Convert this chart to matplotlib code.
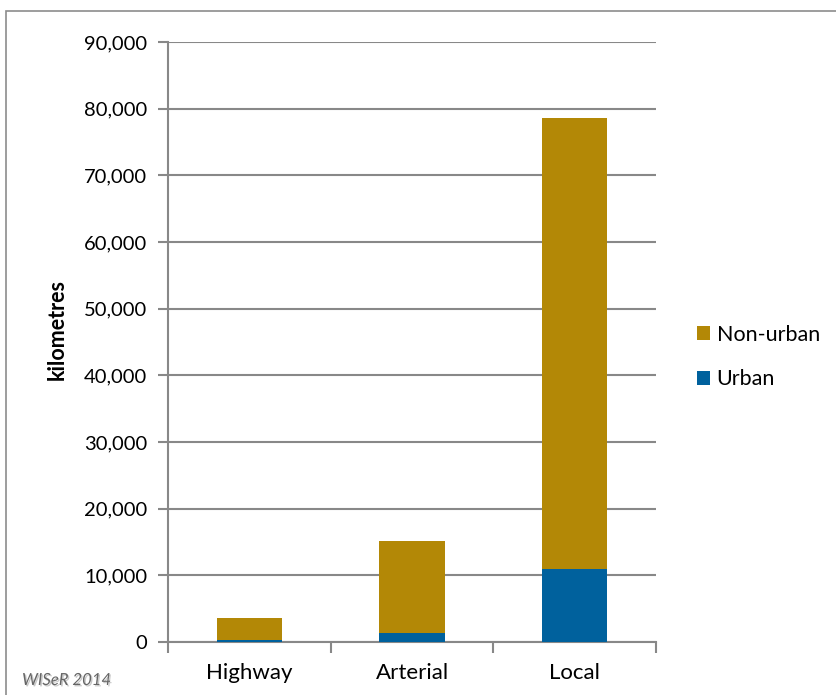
import matplotlib.pyplot as plt
import matplotlib.patheffects as pe
from matplotlib.patches import Rectangle
from matplotlib.ticker import FuncFormatter, MultipleLocator

road_types = ["Highway", "Arterial", "Local"]
urban_km = [300, 1300, 10950]
non_urban_km = [3250, 13850, 67600]

URBAN = "#00619d"
NON_URBAN = "#b38806"
GRID = "#888888"
FONT = ["Lato", "DejaVu Sans"]

W, H = 836, 695
fig = plt.figure(figsize=(W / 100, H / 100), dpi=100)
plt.rcParams["font.family"] = FONT

# chart frame around everything
fig.patches.append(Rectangle((6 / W, -0.05), 1.1, 1 - 11 / H + 0.05,
                             transform=fig.transFigure, fill=False,
                             edgecolor="#8c8c8c", linewidth=1.2))

ax = fig.add_axes([168 / W, 1 - 642 / H, (656 - 168) / W, 600 / H])

x = list(range(len(road_types)))
ax.bar(x, urban_km, width=0.4, color=URBAN, label="Urban", zorder=3)
ax.bar(x, non_urban_km, width=0.4, bottom=urban_km, color=NON_URBAN,
       label="Non-urban", zorder=3)

ax.set_xlim(-0.5, len(road_types) - 0.5)
ax.set_ylim(0, 90000)
ax.yaxis.set_major_locator(MultipleLocator(10000))
ax.yaxis.set_major_formatter(FuncFormatter(lambda v, _: f"{int(v):,}"))
ax.set_xticks(x)
ax.set_xticklabels(road_types)
ax.set_xticks([-0.5, 0.5, 1.5, 2.5], minor=True)
ax.tick_params(axis="x", which="major", length=0, pad=15, labelsize=16)
ax.tick_params(axis="x", which="minor", length=8, width=1.5, color=GRID)
ax.tick_params(axis="y", length=7, width=1.5, color=GRID, pad=8,
               labelsize=14.5)

ax.grid(axis="y", color=GRID, linewidth=1.5, zorder=0)
for side in ("top", "right"):
    ax.spines[side].set_visible(False)
for side in ("left", "bottom"):
    ax.spines[side].set_color(GRID)
    ax.spines[side].set_linewidth(1.5)

ax.set_ylabel("kilometres", fontsize=15.5, fontweight="bold")
ax.yaxis.set_label_coords((68 - 168) / 488, (642 - 329) / 600)

handles, labels = ax.get_legend_handles_labels()
fig.legend(handles[::-1], labels[::-1], loc="center left",
           bbox_to_anchor=(678 / W, 1 - 357 / H), frameon=False,
           fontsize=15.5, handlelength=0.6, handleheight=0.6,
           handletextpad=0.3, labelspacing=1.15)

fig.text(22 / W, 1 - 680 / H, "WISeR 2014", fontsize=12, style="italic",
         color="#666666", va="center",
         path_effects=[pe.withSimplePatchShadow(offset=(1, -1),
                                                shadow_rgbFace="#bbbbbb",
                                                alpha=0.8)])

fig.savefig("out.png", dpi=100)
